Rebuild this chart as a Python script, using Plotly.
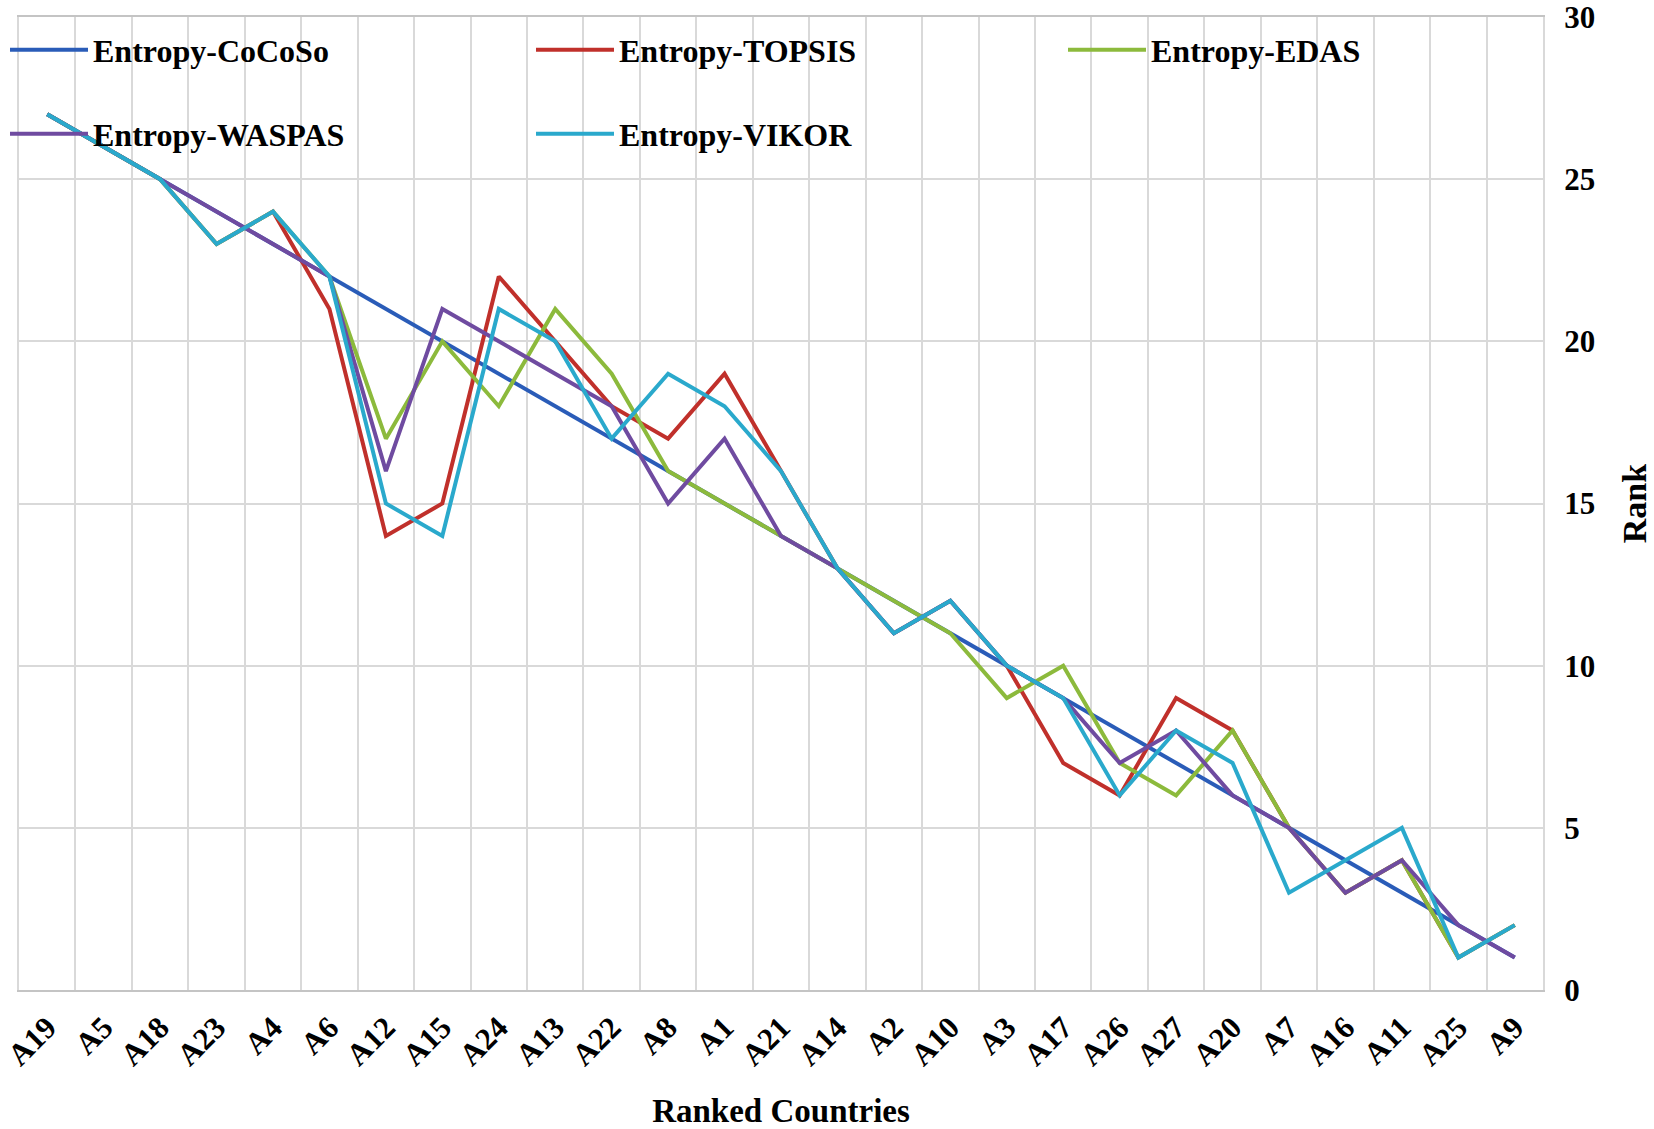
import plotly.graph_objects as go

categories = ["A19", "A5", "A18", "A23", "A4", "A6", "A12", "A15", "A24", "A13",
              "A22", "A8", "A1", "A21", "A14", "A2", "A10", "A3", "A17", "A26",
              "A27", "A20", "A7", "A16", "A11", "A25", "A9"]
cocoso = [27, 26, 25, 24, 23, 22, 21, 20, 19, 18, 17, 16, 15, 14, 13, 12, 11, 10, 9, 8, 7, 6, 5, 4, 3, 2, 1]
topsis = [27, 26, 25, 23, 24, 21, 14, 15, 22, 20, 18, 17, 19, 16, 13, 11, 12, 10, 7, 6, 9, 8, 5, 3, 4, 1, 2]
edas = [27, 26, 25, 23, 24, 22, 17, 20, 18, 21, 19, 16, 15, 14, 13, 12, 11, 9, 10, 7, 6, 8, 5, 3, 4, 1, 2]
waspas = [27, 26, 25, 24, 23, 22, 16, 21, 20, 19, 18, 15, 17, 14, 13, 11, 12, 10, 9, 7, 8, 6, 5, 3, 4, 2, 1]
vikor = [27, 26, 25, 23, 24, 22, 15, 14, 21, 20, 17, 19, 18, 16, 13, 11, 12, 10, 9, 6, 8, 7, 3, 4, 5, 1, 2]

series = [
    ("Entropy-CoCoSo", cocoso, "#2A5CB8", "legend"),
    ("Entropy-TOPSIS", topsis, "#C0302B", "legend2"),
    ("Entropy-EDAS", edas, "#8CBA3C", "legend3"),
    ("Entropy-WASPAS", waspas, "#6F4BA0", "legend4"),
    ("Entropy-VIKOR", vikor, "#2AA9CC", "legend5"),
]

FONT = "Liberation Serif"
W, H = 1654, 1129
ML, MR, MT, MB = 19, 111, 17, 139
PW = W - ML - MR
PH = H - MT - MB

fig = go.Figure()
for name, vals, color, lg in series:
    fig.add_trace(go.Scatter(
        x=categories, y=vals, name=name, mode="lines",
        line=dict(color=color, width=4),
        legend=lg, showlegend=True,
    ))


def px_x(p):
    return (p - ML) / PW


def px_y(p):
    return (H - MB - p) / PH


legend_common = dict(
    bgcolor="rgba(0,0,0,0)",
    font=dict(family=FONT, size=32, color="black", weight="bold"),
    itemwidth=78,
    xanchor="left", yanchor="middle",
    orientation="v",
    visible=True,
)
row1, row2 = px_y(50), px_y(134)
col1, col2, col3 = px_x(5), px_x(531), px_x(1063)

fig.update_layout(
    width=W, height=H,
    showlegend=True,
    margin=dict(l=ML, r=MR, t=MT, b=MB, autoexpand=False),
    paper_bgcolor="white", plot_bgcolor="white",
    font=dict(family=FONT, color="black", weight="bold"),
    legend=dict(legend_common, x=col1, y=row1),
    legend2=dict(legend_common, x=col2, y=row1),
    legend3=dict(legend_common, x=col3, y=row1),
    legend4=dict(legend_common, x=col1, y=row2),
    legend5=dict(legend_common, x=col2, y=row2),
    xaxis=dict(
        type="category",
        categoryorder="array", categoryarray=categories,
        range=[-0.5, len(categories) - 0.5],
        tickson="boundaries",
        showgrid=True, gridcolor="#d9d9d9", gridwidth=2,
        showline=True, linecolor="#c4c4c4", linewidth=2, mirror=True,
        ticks="", tickangle=-45, ticklabelstandoff=5,
        tickfont=dict(family=FONT, size=31, color="black", weight="bold"),
        title=dict(text="Ranked Countries", standoff=33,
                   font=dict(family=FONT, size=33, color="black", weight="bold")),
        zeroline=False,
    ),
    yaxis=dict(
        side="right",
        range=[0, 30], dtick=5, tick0=0,
        showgrid=True, gridcolor="#d9d9d9", gridwidth=2,
        showline=True, linecolor="#d9d9d9", linewidth=2, mirror=True,
        ticks="", ticklabelstandoff=13, ticklabeloverflow="allow",
        tickfont=dict(family=FONT, size=31, color="black", weight="bold"),
        title=dict(text="Rank", standoff=28,
                   font=dict(family=FONT, size=34, color="black", weight="bold")),
        zeroline=False,
    ),
)

fig.write_html("out.html", config={"displayModeBar": False},
               post_script="document.body.style.margin='0px';")
